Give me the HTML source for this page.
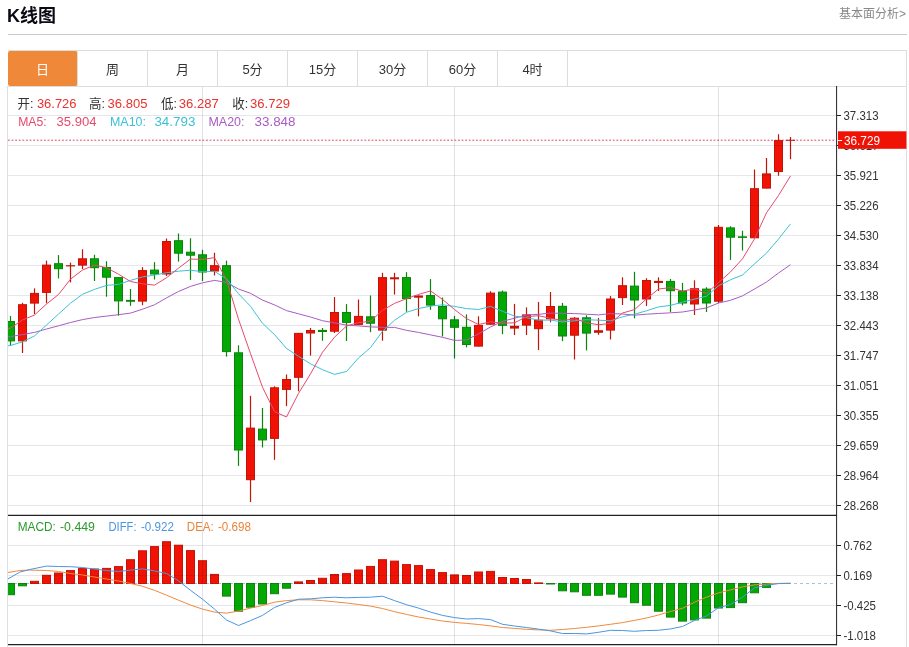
<!DOCTYPE html>
<html lang="zh-CN"><head><meta charset="utf-8"><title>K线图</title>
<style>
html,body{margin:0;padding:0;background:#fff;}
body{width:909px;height:647px;position:relative;overflow:hidden;font-family:"Liberation Sans","Noto Sans CJK SC",sans-serif;}
.title{position:absolute;left:7px;top:2.5px;font-size:18px;font-weight:bold;color:#0a0a14;line-height:26px;white-space:nowrap;}
.more{position:absolute;right:3px;top:5px;font-size:12px;color:#888;line-height:18px;white-space:nowrap;}
.hr{position:absolute;left:8px;top:33.5px;width:899px;height:1.5px;background:#c8c8c8;}
.tabs{position:absolute;left:8px;top:50px;width:898px;height:35px;border:1px solid #ddd;border-left:none;display:flex;}
.tab{width:69px;height:35px;border-right:1px solid #ddd;font-size:13px;line-height:37px;text-align:center;color:#333;}
.tab.on{background:#f0883a;color:#fff;border-radius:2px;margin-top:0;height:35px;}
</style></head><body>
<div class="title">K线图</div>
<div class="more">基本面分析&gt;</div>
<div class="hr"></div>
<div class="tabs"><div class="tab on">日</div><div class="tab">周</div><div class="tab">月</div><div class="tab">5分</div><div class="tab">15分</div><div class="tab">30分</div><div class="tab">60分</div><div class="tab">4时</div></div>
<svg width="909" height="647" viewBox="0 0 909 647" style="position:absolute;left:0;top:0" font-family="'Liberation Sans','Noto Sans CJK SC',sans-serif">
<defs><clipPath id="cp"><rect x="8" y="87" width="828.5" height="560"/></clipPath></defs>
<line x1="7.5" x2="7.5" y1="86" y2="647" stroke="#dcdfe4" stroke-width="1"/>
<line x1="8" x2="834" y1="583.5" y2="583.5" stroke="#9fc4e8" stroke-width="1" stroke-dasharray="3,3"/>
<line x1="8" x2="836" y1="140.2" y2="140.2" stroke="#dc4460" stroke-width="1" stroke-dasharray="1.8,1.8"/>
<g clip-path="url(#cp)">
<line x1="10.5" x2="10.5" y1="316.1" y2="345.8" stroke="#0c840c" stroke-width="1.2"/>
<rect x="6.5" y="321.5" width="8" height="19.4" fill="#04a804" stroke="#0c840c" stroke-width="1"/>
<line x1="22.5" x2="22.5" y1="302.8" y2="353.0" stroke="#c41408" stroke-width="1.2"/>
<rect x="18.5" y="304.7" width="8" height="36.2" fill="#f01205" stroke="#c41408" stroke-width="1"/>
<line x1="34.5" x2="34.5" y1="288.4" y2="314.1" stroke="#c41408" stroke-width="1.2"/>
<rect x="30.5" y="293.4" width="8" height="9.7" fill="#f01205" stroke="#c41408" stroke-width="1"/>
<line x1="46.5" x2="46.5" y1="260.6" y2="303.2" stroke="#c41408" stroke-width="1.2"/>
<rect x="42.5" y="265.1" width="8" height="27.3" fill="#f01205" stroke="#c41408" stroke-width="1"/>
<line x1="58.5" x2="58.5" y1="255.1" y2="278.5" stroke="#0c840c" stroke-width="1.2"/>
<rect x="54.5" y="263.7" width="8" height="5.0" fill="#04a804" stroke="#0c840c" stroke-width="1"/>
<line x1="70.5" x2="70.5" y1="262.6" y2="282.4" stroke="#c41408" stroke-width="1.2"/>
<rect x="66.0" y="265.2" width="9" height="1.2" fill="#c41408"/>
<line x1="82.5" x2="82.5" y1="249.2" y2="269.0" stroke="#c41408" stroke-width="1.2"/>
<rect x="78.5" y="258.8" width="8" height="6.3" fill="#f01205" stroke="#c41408" stroke-width="1"/>
<line x1="94.5" x2="94.5" y1="254.7" y2="281.0" stroke="#0c840c" stroke-width="1.2"/>
<rect x="90.5" y="258.8" width="8" height="8.9" fill="#04a804" stroke="#0c840c" stroke-width="1"/>
<line x1="106.5" x2="106.5" y1="261.2" y2="296.7" stroke="#0c840c" stroke-width="1.2"/>
<rect x="102.5" y="267.5" width="8" height="9.7" fill="#04a804" stroke="#0c840c" stroke-width="1"/>
<line x1="118.5" x2="118.5" y1="277.1" y2="315.7" stroke="#0c840c" stroke-width="1.2"/>
<rect x="114.5" y="277.6" width="8" height="23.3" fill="#04a804" stroke="#0c840c" stroke-width="1"/>
<line x1="130.5" x2="130.5" y1="289.0" y2="305.8" stroke="#0c840c" stroke-width="1.2"/>
<rect x="126.0" y="299.9" width="9" height="1.9" fill="#0c840c"/>
<line x1="142.5" x2="142.5" y1="267.2" y2="305.2" stroke="#c41408" stroke-width="1.2"/>
<rect x="138.5" y="270.6" width="8" height="30.5" fill="#f01205" stroke="#c41408" stroke-width="1"/>
<line x1="154.5" x2="154.5" y1="262.2" y2="279.5" stroke="#0c840c" stroke-width="1.2"/>
<rect x="150.5" y="270.1" width="8" height="3.9" fill="#04a804" stroke="#0c840c" stroke-width="1"/>
<line x1="166.5" x2="166.5" y1="238.5" y2="276.0" stroke="#c41408" stroke-width="1.2"/>
<rect x="162.5" y="241.5" width="8" height="32.5" fill="#f01205" stroke="#c41408" stroke-width="1"/>
<line x1="178.5" x2="178.5" y1="233.5" y2="261.6" stroke="#0c840c" stroke-width="1.2"/>
<rect x="174.5" y="240.7" width="8" height="12.5" fill="#04a804" stroke="#0c840c" stroke-width="1"/>
<line x1="190.5" x2="190.5" y1="238.3" y2="279.9" stroke="#0c840c" stroke-width="1.2"/>
<rect x="186.5" y="252.2" width="8" height="3.0" fill="#04a804" stroke="#0c840c" stroke-width="1"/>
<line x1="202.5" x2="202.5" y1="249.8" y2="281.0" stroke="#0c840c" stroke-width="1.2"/>
<rect x="198.5" y="254.8" width="8" height="17.2" fill="#04a804" stroke="#0c840c" stroke-width="1"/>
<line x1="214.5" x2="214.5" y1="252.7" y2="275.5" stroke="#c41408" stroke-width="1.2"/>
<rect x="210.5" y="265.7" width="8" height="5.3" fill="#f01205" stroke="#c41408" stroke-width="1"/>
<line x1="226.5" x2="226.5" y1="260.6" y2="356.6" stroke="#0c840c" stroke-width="1.2"/>
<rect x="222.5" y="265.7" width="8" height="85.9" fill="#04a804" stroke="#0c840c" stroke-width="1"/>
<line x1="238.5" x2="238.5" y1="345.3" y2="465.9" stroke="#0c840c" stroke-width="1.2"/>
<rect x="234.5" y="352.8" width="8" height="97.2" fill="#04a804" stroke="#0c840c" stroke-width="1"/>
<line x1="250.5" x2="250.5" y1="395.8" y2="502.0" stroke="#c41408" stroke-width="1.2"/>
<rect x="246.5" y="428.1" width="8" height="51.6" fill="#f01205" stroke="#c41408" stroke-width="1"/>
<line x1="262.5" x2="262.5" y1="408.0" y2="447.5" stroke="#0c840c" stroke-width="1.2"/>
<rect x="258.5" y="429.1" width="8" height="10.8" fill="#04a804" stroke="#0c840c" stroke-width="1"/>
<line x1="274.5" x2="274.5" y1="386.3" y2="459.8" stroke="#c41408" stroke-width="1.2"/>
<rect x="270.5" y="387.8" width="8" height="50.6" fill="#f01205" stroke="#c41408" stroke-width="1"/>
<line x1="286.5" x2="286.5" y1="374.5" y2="406.1" stroke="#c41408" stroke-width="1.2"/>
<rect x="282.5" y="379.5" width="8" height="9.9" fill="#f01205" stroke="#c41408" stroke-width="1"/>
<line x1="298.5" x2="298.5" y1="332.9" y2="391.3" stroke="#c41408" stroke-width="1.2"/>
<rect x="294.5" y="333.4" width="8" height="43.9" fill="#f01205" stroke="#c41408" stroke-width="1"/>
<line x1="310.5" x2="310.5" y1="328.0" y2="355.6" stroke="#c41408" stroke-width="1.2"/>
<rect x="306.5" y="330.5" width="8" height="2.5" fill="#f01205" stroke="#c41408" stroke-width="1"/>
<line x1="322.5" x2="322.5" y1="328.0" y2="340.8" stroke="#0c840c" stroke-width="1.2"/>
<rect x="318.0" y="329.9" width="9" height="2.1" fill="#0c840c"/>
<line x1="334.5" x2="334.5" y1="297.1" y2="333.0" stroke="#c41408" stroke-width="1.2"/>
<rect x="330.5" y="312.5" width="8" height="18.7" fill="#f01205" stroke="#c41408" stroke-width="1"/>
<line x1="346.5" x2="346.5" y1="304.1" y2="341.0" stroke="#0c840c" stroke-width="1.2"/>
<rect x="342.5" y="312.5" width="8" height="9.9" fill="#04a804" stroke="#0c840c" stroke-width="1"/>
<line x1="358.5" x2="358.5" y1="299.5" y2="325.2" stroke="#c41408" stroke-width="1.2"/>
<rect x="354.5" y="316.4" width="8" height="8.0" fill="#f01205" stroke="#c41408" stroke-width="1"/>
<line x1="370.5" x2="370.5" y1="295.5" y2="332.2" stroke="#0c840c" stroke-width="1.2"/>
<rect x="366.5" y="316.8" width="8" height="6.4" fill="#04a804" stroke="#0c840c" stroke-width="1"/>
<line x1="382.5" x2="382.5" y1="272.8" y2="340.7" stroke="#c41408" stroke-width="1.2"/>
<rect x="378.5" y="277.6" width="8" height="52.5" fill="#f01205" stroke="#c41408" stroke-width="1"/>
<line x1="394.5" x2="394.5" y1="272.8" y2="294.6" stroke="#c41408" stroke-width="1.2"/>
<rect x="390.0" y="277.3" width="9" height="2.0" fill="#c41408"/>
<line x1="406.5" x2="406.5" y1="272.2" y2="311.8" stroke="#0c840c" stroke-width="1.2"/>
<rect x="402.5" y="277.6" width="8" height="21.0" fill="#04a804" stroke="#0c840c" stroke-width="1"/>
<line x1="418.5" x2="418.5" y1="295.5" y2="316.3" stroke="#c41408" stroke-width="1.2"/>
<rect x="414.0" y="295.5" width="9" height="2.2" fill="#c41408"/>
<line x1="430.5" x2="430.5" y1="279.1" y2="309.8" stroke="#0c840c" stroke-width="1.2"/>
<rect x="426.5" y="295.6" width="8" height="9.5" fill="#04a804" stroke="#0c840c" stroke-width="1"/>
<line x1="442.5" x2="442.5" y1="297.5" y2="336.5" stroke="#0c840c" stroke-width="1.2"/>
<rect x="438.5" y="306.5" width="8" height="12.3" fill="#04a804" stroke="#0c840c" stroke-width="1"/>
<line x1="454.5" x2="454.5" y1="315.9" y2="358.5" stroke="#0c840c" stroke-width="1.2"/>
<rect x="450.5" y="319.8" width="8" height="7.5" fill="#04a804" stroke="#0c840c" stroke-width="1"/>
<line x1="466.5" x2="466.5" y1="314.4" y2="347.4" stroke="#0c840c" stroke-width="1.2"/>
<rect x="462.5" y="327.3" width="8" height="17.2" fill="#04a804" stroke="#0c840c" stroke-width="1"/>
<line x1="478.5" x2="478.5" y1="316.3" y2="346.6" stroke="#c41408" stroke-width="1.2"/>
<rect x="474.5" y="325.4" width="8" height="20.7" fill="#f01205" stroke="#c41408" stroke-width="1"/>
<line x1="490.5" x2="490.5" y1="291.2" y2="324.7" stroke="#c41408" stroke-width="1.2"/>
<rect x="486.5" y="293.1" width="8" height="31.1" fill="#f01205" stroke="#c41408" stroke-width="1"/>
<line x1="502.5" x2="502.5" y1="290.6" y2="334.2" stroke="#0c840c" stroke-width="1.2"/>
<rect x="498.5" y="292.1" width="8" height="33.2" fill="#04a804" stroke="#0c840c" stroke-width="1"/>
<line x1="514.5" x2="514.5" y1="303.9" y2="335.1" stroke="#c41408" stroke-width="1.2"/>
<rect x="510.0" y="325.8" width="9" height="2.8" fill="#c41408"/>
<line x1="526.5" x2="526.5" y1="307.4" y2="335.1" stroke="#c41408" stroke-width="1.2"/>
<rect x="522.5" y="314.9" width="8" height="10.2" fill="#f01205" stroke="#c41408" stroke-width="1"/>
<line x1="538.5" x2="538.5" y1="301.9" y2="350.0" stroke="#c41408" stroke-width="1.2"/>
<rect x="534.5" y="320.2" width="8" height="8.5" fill="#f01205" stroke="#c41408" stroke-width="1"/>
<line x1="550.5" x2="550.5" y1="292.0" y2="322.3" stroke="#c41408" stroke-width="1.2"/>
<rect x="546.5" y="306.5" width="8" height="12.3" fill="#f01205" stroke="#c41408" stroke-width="1"/>
<line x1="562.5" x2="562.5" y1="302.9" y2="341.1" stroke="#0c840c" stroke-width="1.2"/>
<rect x="558.5" y="306.3" width="8" height="29.7" fill="#04a804" stroke="#0c840c" stroke-width="1"/>
<line x1="574.5" x2="574.5" y1="317.0" y2="359.5" stroke="#c41408" stroke-width="1.2"/>
<rect x="570.5" y="318.2" width="8" height="17.0" fill="#f01205" stroke="#c41408" stroke-width="1"/>
<line x1="586.5" x2="586.5" y1="315.3" y2="350.4" stroke="#0c840c" stroke-width="1.2"/>
<rect x="582.5" y="317.8" width="8" height="15.3" fill="#04a804" stroke="#0c840c" stroke-width="1"/>
<line x1="598.5" x2="598.5" y1="317.9" y2="334.8" stroke="#c41408" stroke-width="1.2"/>
<rect x="594.0" y="330.2" width="9" height="2.6" fill="#c41408"/>
<line x1="610.5" x2="610.5" y1="295.9" y2="339.5" stroke="#c41408" stroke-width="1.2"/>
<rect x="606.5" y="299.0" width="8" height="31.1" fill="#f01205" stroke="#c41408" stroke-width="1"/>
<line x1="622.5" x2="622.5" y1="277.3" y2="305.0" stroke="#c41408" stroke-width="1.2"/>
<rect x="618.5" y="285.7" width="8" height="11.9" fill="#f01205" stroke="#c41408" stroke-width="1"/>
<line x1="634.5" x2="634.5" y1="271.8" y2="318.3" stroke="#0c840c" stroke-width="1.2"/>
<rect x="630.5" y="286.1" width="8" height="13.9" fill="#04a804" stroke="#0c840c" stroke-width="1"/>
<line x1="646.5" x2="646.5" y1="278.3" y2="306.0" stroke="#c41408" stroke-width="1.2"/>
<rect x="642.5" y="280.5" width="8" height="18.5" fill="#f01205" stroke="#c41408" stroke-width="1"/>
<line x1="658.5" x2="658.5" y1="277.3" y2="291.0" stroke="#c41408" stroke-width="1.2"/>
<rect x="654.0" y="280.9" width="9" height="2.1" fill="#c41408"/>
<line x1="670.5" x2="670.5" y1="278.9" y2="312.0" stroke="#0c840c" stroke-width="1.2"/>
<rect x="666.5" y="281.4" width="8" height="9.3" fill="#04a804" stroke="#0c840c" stroke-width="1"/>
<line x1="682.5" x2="682.5" y1="282.9" y2="305.4" stroke="#0c840c" stroke-width="1.2"/>
<rect x="678.5" y="291.1" width="8" height="11.9" fill="#04a804" stroke="#0c840c" stroke-width="1"/>
<line x1="694.5" x2="694.5" y1="280.3" y2="315.0" stroke="#c41408" stroke-width="1.2"/>
<rect x="690.5" y="288.7" width="8" height="15.3" fill="#f01205" stroke="#c41408" stroke-width="1"/>
<line x1="706.5" x2="706.5" y1="287.2" y2="312.0" stroke="#0c840c" stroke-width="1.2"/>
<rect x="702.5" y="289.1" width="8" height="13.9" fill="#04a804" stroke="#0c840c" stroke-width="1"/>
<line x1="718.5" x2="718.5" y1="224.9" y2="303.1" stroke="#c41408" stroke-width="1.2"/>
<rect x="714.5" y="227.3" width="8" height="73.9" fill="#f01205" stroke="#c41408" stroke-width="1"/>
<line x1="730.5" x2="730.5" y1="226.2" y2="259.9" stroke="#0c840c" stroke-width="1.2"/>
<rect x="726.5" y="227.9" width="8" height="9.3" fill="#04a804" stroke="#0c840c" stroke-width="1"/>
<line x1="742.5" x2="742.5" y1="230.8" y2="250.6" stroke="#0c840c" stroke-width="1.2"/>
<rect x="738.0" y="236.3" width="9" height="1.6" fill="#0c840c"/>
<line x1="754.5" x2="754.5" y1="169.4" y2="238.3" stroke="#c41408" stroke-width="1.2"/>
<rect x="750.5" y="188.7" width="8" height="49.1" fill="#f01205" stroke="#c41408" stroke-width="1"/>
<line x1="766.5" x2="766.5" y1="158.1" y2="188.6" stroke="#c41408" stroke-width="1.2"/>
<rect x="762.5" y="173.9" width="8" height="14.2" fill="#f01205" stroke="#c41408" stroke-width="1"/>
<line x1="778.5" x2="778.5" y1="134.2" y2="175.7" stroke="#c41408" stroke-width="1.2"/>
<rect x="774.5" y="140.6" width="8" height="30.9" fill="#f01205" stroke="#c41408" stroke-width="1"/>
<line x1="790.5" x2="790.5" y1="136.9" y2="159.2" stroke="#c41408" stroke-width="1.2"/>
<rect x="786.0" y="139.8" width="9" height="1.0" fill="#c41408"/>
<rect x="6.5" y="583.5" width="8" height="11.2" fill="#04a804" stroke="#0c840c" stroke-width="1"/>
<rect x="18.5" y="583.5" width="8" height="2.3" fill="#04a804" stroke="#0c840c" stroke-width="1"/>
<rect x="30.5" y="581.3" width="8" height="2.2" fill="#f01205" stroke="#c41408" stroke-width="1"/>
<rect x="42.5" y="575.3" width="8" height="8.2" fill="#f01205" stroke="#c41408" stroke-width="1"/>
<rect x="54.5" y="573.0" width="8" height="10.5" fill="#f01205" stroke="#c41408" stroke-width="1"/>
<rect x="66.5" y="570.6" width="8" height="12.9" fill="#f01205" stroke="#c41408" stroke-width="1"/>
<rect x="78.5" y="568.6" width="8" height="14.9" fill="#f01205" stroke="#c41408" stroke-width="1"/>
<rect x="90.5" y="569.0" width="8" height="14.5" fill="#f01205" stroke="#c41408" stroke-width="1"/>
<rect x="102.5" y="568.4" width="8" height="15.1" fill="#f01205" stroke="#c41408" stroke-width="1"/>
<rect x="114.5" y="566.6" width="8" height="16.9" fill="#f01205" stroke="#c41408" stroke-width="1"/>
<rect x="126.5" y="559.7" width="8" height="23.8" fill="#f01205" stroke="#c41408" stroke-width="1"/>
<rect x="138.5" y="550.8" width="8" height="32.7" fill="#f01205" stroke="#c41408" stroke-width="1"/>
<rect x="150.5" y="546.6" width="8" height="36.9" fill="#f01205" stroke="#c41408" stroke-width="1"/>
<rect x="162.5" y="541.7" width="8" height="41.8" fill="#f01205" stroke="#c41408" stroke-width="1"/>
<rect x="174.5" y="545.2" width="8" height="38.3" fill="#f01205" stroke="#c41408" stroke-width="1"/>
<rect x="186.5" y="550.6" width="8" height="32.9" fill="#f01205" stroke="#c41408" stroke-width="1"/>
<rect x="198.5" y="560.7" width="8" height="22.8" fill="#f01205" stroke="#c41408" stroke-width="1"/>
<rect x="210.5" y="574.4" width="8" height="9.1" fill="#f01205" stroke="#c41408" stroke-width="1"/>
<rect x="222.5" y="583.5" width="8" height="12.6" fill="#04a804" stroke="#0c840c" stroke-width="1"/>
<rect x="234.5" y="583.5" width="8" height="27.7" fill="#04a804" stroke="#0c840c" stroke-width="1"/>
<rect x="246.5" y="583.5" width="8" height="23.7" fill="#04a804" stroke="#0c840c" stroke-width="1"/>
<rect x="258.5" y="583.5" width="8" height="20.5" fill="#04a804" stroke="#0c840c" stroke-width="1"/>
<rect x="270.5" y="583.5" width="8" height="10.2" fill="#04a804" stroke="#0c840c" stroke-width="1"/>
<rect x="282.5" y="583.5" width="8" height="4.7" fill="#04a804" stroke="#0c840c" stroke-width="1"/>
<rect x="294.5" y="581.9" width="8" height="1.6" fill="#f01205" stroke="#c41408" stroke-width="1"/>
<rect x="306.5" y="580.5" width="8" height="3.0" fill="#f01205" stroke="#c41408" stroke-width="1"/>
<rect x="318.5" y="578.3" width="8" height="5.2" fill="#f01205" stroke="#c41408" stroke-width="1"/>
<rect x="330.5" y="574.5" width="8" height="9.0" fill="#f01205" stroke="#c41408" stroke-width="1"/>
<rect x="342.5" y="573.6" width="8" height="9.9" fill="#f01205" stroke="#c41408" stroke-width="1"/>
<rect x="354.5" y="570.0" width="8" height="13.5" fill="#f01205" stroke="#c41408" stroke-width="1"/>
<rect x="366.5" y="566.4" width="8" height="17.1" fill="#f01205" stroke="#c41408" stroke-width="1"/>
<rect x="378.5" y="559.7" width="8" height="23.8" fill="#f01205" stroke="#c41408" stroke-width="1"/>
<rect x="390.5" y="561.1" width="8" height="22.4" fill="#f01205" stroke="#c41408" stroke-width="1"/>
<rect x="402.5" y="564.6" width="8" height="18.9" fill="#f01205" stroke="#c41408" stroke-width="1"/>
<rect x="414.5" y="565.6" width="8" height="17.9" fill="#f01205" stroke="#c41408" stroke-width="1"/>
<rect x="426.5" y="569.6" width="8" height="13.9" fill="#f01205" stroke="#c41408" stroke-width="1"/>
<rect x="438.5" y="572.6" width="8" height="10.9" fill="#f01205" stroke="#c41408" stroke-width="1"/>
<rect x="450.5" y="574.9" width="8" height="8.6" fill="#f01205" stroke="#c41408" stroke-width="1"/>
<rect x="462.5" y="575.5" width="8" height="8.0" fill="#f01205" stroke="#c41408" stroke-width="1"/>
<rect x="474.5" y="572.0" width="8" height="11.5" fill="#f01205" stroke="#c41408" stroke-width="1"/>
<rect x="486.5" y="571.4" width="8" height="12.1" fill="#f01205" stroke="#c41408" stroke-width="1"/>
<rect x="498.5" y="577.5" width="8" height="6.0" fill="#f01205" stroke="#c41408" stroke-width="1"/>
<rect x="510.5" y="578.5" width="8" height="5.0" fill="#f01205" stroke="#c41408" stroke-width="1"/>
<rect x="522.5" y="579.5" width="8" height="4.0" fill="#f01205" stroke="#c41408" stroke-width="1"/>
<rect x="534.5" y="582.9" width="8" height="0.6" fill="#f01205" stroke="#c41408" stroke-width="1"/>
<rect x="546.5" y="583.5" width="8" height="0.5" fill="#04a804" stroke="#0c840c" stroke-width="1"/>
<rect x="558.5" y="583.5" width="8" height="7.3" fill="#04a804" stroke="#0c840c" stroke-width="1"/>
<rect x="570.5" y="583.5" width="8" height="8.3" fill="#04a804" stroke="#0c840c" stroke-width="1"/>
<rect x="582.5" y="583.5" width="8" height="11.8" fill="#04a804" stroke="#0c840c" stroke-width="1"/>
<rect x="594.5" y="583.5" width="8" height="11.8" fill="#04a804" stroke="#0c840c" stroke-width="1"/>
<rect x="606.5" y="583.5" width="8" height="10.6" fill="#04a804" stroke="#0c840c" stroke-width="1"/>
<rect x="618.5" y="583.5" width="8" height="13.6" fill="#04a804" stroke="#0c840c" stroke-width="1"/>
<rect x="630.5" y="583.5" width="8" height="19.2" fill="#04a804" stroke="#0c840c" stroke-width="1"/>
<rect x="642.5" y="583.5" width="8" height="21.7" fill="#04a804" stroke="#0c840c" stroke-width="1"/>
<rect x="654.5" y="583.5" width="8" height="27.7" fill="#04a804" stroke="#0c840c" stroke-width="1"/>
<rect x="666.5" y="583.5" width="8" height="33.6" fill="#04a804" stroke="#0c840c" stroke-width="1"/>
<rect x="678.5" y="583.5" width="8" height="37.6" fill="#04a804" stroke="#0c840c" stroke-width="1"/>
<rect x="690.5" y="583.5" width="8" height="36.4" fill="#04a804" stroke="#0c840c" stroke-width="1"/>
<rect x="702.5" y="583.5" width="8" height="34.6" fill="#04a804" stroke="#0c840c" stroke-width="1"/>
<rect x="714.5" y="583.5" width="8" height="24.5" fill="#04a804" stroke="#0c840c" stroke-width="1"/>
<rect x="726.5" y="583.5" width="8" height="24.1" fill="#04a804" stroke="#0c840c" stroke-width="1"/>
<rect x="738.5" y="583.5" width="8" height="19.2" fill="#04a804" stroke="#0c840c" stroke-width="1"/>
<rect x="750.5" y="583.5" width="8" height="9.3" fill="#04a804" stroke="#0c840c" stroke-width="1"/>
<rect x="762.5" y="583.5" width="8" height="3.9" fill="#04a804" stroke="#0c840c" stroke-width="1"/>
<line x1="8" x2="836" y1="115.5" y2="115.5" stroke="rgba(10,20,50,0.10)" stroke-width="1"/>
<line x1="8" x2="836" y1="145.5" y2="145.5" stroke="rgba(10,20,50,0.10)" stroke-width="1"/>
<line x1="8" x2="836" y1="175.5" y2="175.5" stroke="rgba(10,20,50,0.10)" stroke-width="1"/>
<line x1="8" x2="836" y1="205.5" y2="205.5" stroke="rgba(10,20,50,0.10)" stroke-width="1"/>
<line x1="8" x2="836" y1="235.5" y2="235.5" stroke="rgba(10,20,50,0.10)" stroke-width="1"/>
<line x1="8" x2="836" y1="265.5" y2="265.5" stroke="rgba(10,20,50,0.10)" stroke-width="1"/>
<line x1="8" x2="836" y1="295.5" y2="295.5" stroke="rgba(10,20,50,0.10)" stroke-width="1"/>
<line x1="8" x2="836" y1="325.5" y2="325.5" stroke="rgba(10,20,50,0.10)" stroke-width="1"/>
<line x1="8" x2="836" y1="355.5" y2="355.5" stroke="rgba(10,20,50,0.10)" stroke-width="1"/>
<line x1="8" x2="836" y1="385.5" y2="385.5" stroke="rgba(10,20,50,0.10)" stroke-width="1"/>
<line x1="8" x2="836" y1="415.5" y2="415.5" stroke="rgba(10,20,50,0.10)" stroke-width="1"/>
<line x1="8" x2="836" y1="445.5" y2="445.5" stroke="rgba(10,20,50,0.10)" stroke-width="1"/>
<line x1="8" x2="836" y1="475.5" y2="475.5" stroke="rgba(10,20,50,0.10)" stroke-width="1"/>
<line x1="8" x2="836" y1="505.5" y2="505.5" stroke="rgba(10,20,50,0.10)" stroke-width="1"/>
<line x1="8" x2="836" y1="545.5" y2="545.5" stroke="rgba(10,20,50,0.10)" stroke-width="1"/>
<line x1="8" x2="836" y1="575.5" y2="575.5" stroke="rgba(10,20,50,0.10)" stroke-width="1"/>
<line x1="8" x2="836" y1="605.5" y2="605.5" stroke="rgba(10,20,50,0.10)" stroke-width="1"/>
<line x1="8" x2="836" y1="635.5" y2="635.5" stroke="rgba(10,20,50,0.10)" stroke-width="1"/>
<line x1="202.5" x2="202.5" y1="87" y2="645" stroke="rgba(10,20,60,0.12)" stroke-width="1"/>
<line x1="454.5" x2="454.5" y1="87" y2="645" stroke="rgba(10,20,60,0.12)" stroke-width="1"/>
<line x1="718.5" x2="718.5" y1="87" y2="645" stroke="rgba(10,20,60,0.12)" stroke-width="1"/>
<polyline points="-1.5,337.6 10.5,336.6 22.5,334.6 34.5,332.4 46.5,329.0 58.5,325.8 70.5,322.5 82.5,319.6 94.5,317.5 106.5,316.1 118.5,314.7 130.5,313.1 142.5,309.2 154.5,304.8 166.5,297.9 178.5,291.5 190.5,286.4 202.5,282.8 214.5,280.4 226.5,282.4 238.5,289.0 250.5,293.3 262.5,300.1 274.5,304.9 286.5,310.6 298.5,313.8 310.5,317.0 322.5,320.7 334.5,322.9 346.5,325.1 358.5,325.9 370.5,326.9 382.5,327.3 394.5,327.4 406.5,330.3 418.5,332.4 430.5,334.9 442.5,337.3 454.5,340.4 466.5,340.0 478.5,333.8 490.5,327.0 502.5,321.3 514.5,318.2 526.5,315.0 538.5,314.3 550.5,313.1 562.5,313.3 574.5,313.6 586.5,314.2 598.5,314.9 610.5,313.6 622.5,314.0 634.5,315.2 646.5,314.2 658.5,313.5 670.5,312.8 682.5,312.0 694.5,310.0 706.5,307.9 718.5,303.0 730.5,300.3 742.5,295.9 754.5,289.0 766.5,282.0 778.5,273.0 790.5,264.7" fill="none" stroke="#a95bc4" stroke-width="1.0" stroke-linejoin="round"/>
<polyline points="-1.5,347.5 10.5,345.5 22.5,341.8 34.5,335.9 46.5,325.0 58.5,314.1 70.5,303.2 82.5,294.3 94.5,289.4 106.5,285.4 118.5,284.3 130.5,280.4 142.5,276.9 154.5,275.1 166.5,272.7 178.5,271.2 190.5,270.2 202.5,271.7 214.5,271.4 226.5,278.8 238.5,293.7 250.5,306.3 262.5,323.3 274.5,334.6 286.5,348.4 298.5,356.3 310.5,363.8 322.5,369.7 334.5,374.4 346.5,371.5 358.5,358.0 370.5,347.6 382.5,331.3 394.5,320.3 406.5,312.3 418.5,308.6 430.5,306.1 442.5,304.8 454.5,306.4 466.5,308.6 478.5,309.5 490.5,306.4 502.5,311.3 514.5,316.1 526.5,317.7 538.5,320.1 550.5,320.1 562.5,321.9 574.5,320.8 586.5,319.7 598.5,320.2 610.5,320.8 622.5,316.8 634.5,314.2 646.5,310.8 658.5,306.9 670.5,305.4 682.5,302.1 694.5,299.2 706.5,296.2 718.5,285.8 730.5,279.8 742.5,275.0 754.5,263.8 766.5,253.1 778.5,239.1 790.5,223.9" fill="none" stroke="#3cc2d6" stroke-width="1.0" stroke-linejoin="round"/>
<polyline points="-1.5,331.0 10.5,328.0 22.5,320.0 34.5,315.0 46.5,304.0 58.5,294.5 70.5,279.2 82.5,270.0 94.5,265.1 106.5,267.7 118.5,274.2 130.5,281.5 142.5,283.8 154.5,285.1 166.5,277.8 178.5,268.2 190.5,259.0 202.5,259.5 214.5,257.6 226.5,279.8 238.5,319.2 250.5,353.6 262.5,387.2 274.5,411.6 286.5,417.0 298.5,393.4 310.5,373.9 322.5,352.2 334.5,337.2 346.5,326.0 358.5,322.6 370.5,321.3 382.5,310.3 394.5,303.4 406.5,298.6 418.5,294.5 430.5,290.9 442.5,299.4 454.5,309.5 466.5,318.6 478.5,324.5 490.5,321.9 502.5,323.2 514.5,322.8 526.5,316.7 538.5,315.7 550.5,318.3 562.5,320.5 574.5,318.9 586.5,322.7 598.5,324.8 610.5,323.3 622.5,313.0 634.5,309.6 646.5,298.9 658.5,289.0 670.5,287.6 682.5,291.2 694.5,288.8 706.5,293.5 718.5,282.6 730.5,271.9 742.5,258.8 754.5,238.8 766.5,212.8 778.5,195.5 790.5,175.9" fill="none" stroke="#e8496f" stroke-width="1.0" stroke-linejoin="round"/>
<polyline points="7.9,572.5 19.8,570.5 29.7,570.1 46.5,570.5 58.5,571.5 70.5,573.5 82.5,575.0 94.5,577.0 106.5,579.0 118.5,581.0 130.5,583.4 142.5,586.3 154.5,590.3 166.5,595.2 178.5,600.2 190.5,605.1 202.5,609.1 214.5,612.1 226.5,613.1 238.5,611.1 250.5,608.1 262.5,605.5 274.5,602.2 286.5,600.6 298.5,599.8 310.5,599.8 322.5,600.6 334.5,601.8 346.5,603.0 358.5,604.5 370.5,606.1 382.5,608.5 394.5,611.7 406.5,614.4 418.5,617.0 430.5,619.0 442.5,621.0 454.5,622.4 466.5,623.4 478.5,624.5 490.5,625.9 502.5,627.5 514.5,628.4 526.5,629.3 538.5,629.9 550.5,630.3 562.5,629.5 574.5,628.5 586.5,627.3 598.5,625.9 610.5,624.3 622.5,622.6 634.5,620.4 646.5,618.0 658.5,615.0 670.5,611.5 682.5,608.3 694.5,602.2 706.5,597.2 718.5,592.9 730.5,589.9 742.5,586.9 754.5,584.9 766.5,584.0 778.5,583.4 790.5,583.2" fill="none" stroke="#f08a3c" stroke-width="1.0" stroke-linejoin="round"/>
<polyline points="7.9,579.0 19.8,572.1 29.7,569.5 46.5,566.1 58.5,566.5 70.5,566.7 82.5,567.5 94.5,569.1 106.5,570.5 118.5,571.5 130.5,570.1 142.5,568.9 154.5,570.9 166.5,573.5 178.5,580.8 190.5,590.3 202.5,599.2 214.5,609.1 226.5,620.0 238.5,625.5 250.5,620.6 262.5,615.4 274.5,607.5 286.5,602.8 298.5,599.2 310.5,598.8 322.5,597.8 334.5,597.2 346.5,597.8 358.5,597.4 370.5,597.2 382.5,596.2 394.5,600.6 406.5,604.7 418.5,608.1 430.5,612.1 442.5,615.4 454.5,617.6 466.5,619.0 478.5,618.6 490.5,619.6 502.5,624.3 514.5,626.0 526.5,627.5 538.5,629.1 550.5,630.9 562.5,633.5 574.5,633.5 586.5,633.9 598.5,632.3 610.5,630.3 622.5,630.5 634.5,631.3 646.5,630.5 658.5,630.3 670.5,628.9 682.5,626.5 694.5,620.4 706.5,616.0 718.5,607.7 730.5,604.5 742.5,597.2 754.5,587.9 766.5,585.3 778.5,583.6 790.5,583.4" fill="none" stroke="#4a96e0" stroke-width="1.0" stroke-linejoin="round"/>
</g>
<line x1="836.6" x2="836.6" y1="86" y2="645.2" stroke="#222" stroke-width="1"/>
<line x1="8" x2="837" y1="515.4" y2="515.4" stroke="#222" stroke-width="1.1"/>
<line x1="8" x2="837" y1="644.6" y2="644.6" stroke="#222" stroke-width="1.1"/>
<line x1="906.5" x2="906.5" y1="50" y2="647" stroke="#ddd" stroke-width="1"/>
<line x1="837" x2="841" y1="115.5" y2="115.5" stroke="#222" stroke-width="1"/>
<text x="843.5" y="119.6" font-size="12" fill="#333" textLength="35" lengthAdjust="spacingAndGlyphs">37.313</text>
<line x1="837" x2="841" y1="145.5" y2="145.5" stroke="#222" stroke-width="1"/>
<text x="843.5" y="149.6" font-size="12" fill="#333" textLength="35" lengthAdjust="spacingAndGlyphs">36.617</text>
<line x1="837" x2="841" y1="175.5" y2="175.5" stroke="#222" stroke-width="1"/>
<text x="843.5" y="179.6" font-size="12" fill="#333" textLength="35" lengthAdjust="spacingAndGlyphs">35.921</text>
<line x1="837" x2="841" y1="205.5" y2="205.5" stroke="#222" stroke-width="1"/>
<text x="843.5" y="209.6" font-size="12" fill="#333" textLength="35" lengthAdjust="spacingAndGlyphs">35.226</text>
<line x1="837" x2="841" y1="235.5" y2="235.5" stroke="#222" stroke-width="1"/>
<text x="843.5" y="239.6" font-size="12" fill="#333" textLength="35" lengthAdjust="spacingAndGlyphs">34.530</text>
<line x1="837" x2="841" y1="265.5" y2="265.5" stroke="#222" stroke-width="1"/>
<text x="843.5" y="269.6" font-size="12" fill="#333" textLength="35" lengthAdjust="spacingAndGlyphs">33.834</text>
<line x1="837" x2="841" y1="295.5" y2="295.5" stroke="#222" stroke-width="1"/>
<text x="843.5" y="299.6" font-size="12" fill="#333" textLength="35" lengthAdjust="spacingAndGlyphs">33.138</text>
<line x1="837" x2="841" y1="325.5" y2="325.5" stroke="#222" stroke-width="1"/>
<text x="843.5" y="329.6" font-size="12" fill="#333" textLength="35" lengthAdjust="spacingAndGlyphs">32.443</text>
<line x1="837" x2="841" y1="355.5" y2="355.5" stroke="#222" stroke-width="1"/>
<text x="843.5" y="359.6" font-size="12" fill="#333" textLength="35" lengthAdjust="spacingAndGlyphs">31.747</text>
<line x1="837" x2="841" y1="385.5" y2="385.5" stroke="#222" stroke-width="1"/>
<text x="843.5" y="389.6" font-size="12" fill="#333" textLength="35" lengthAdjust="spacingAndGlyphs">31.051</text>
<line x1="837" x2="841" y1="415.5" y2="415.5" stroke="#222" stroke-width="1"/>
<text x="843.5" y="419.6" font-size="12" fill="#333" textLength="35" lengthAdjust="spacingAndGlyphs">30.355</text>
<line x1="837" x2="841" y1="445.5" y2="445.5" stroke="#222" stroke-width="1"/>
<text x="843.5" y="449.6" font-size="12" fill="#333" textLength="35" lengthAdjust="spacingAndGlyphs">29.659</text>
<line x1="837" x2="841" y1="475.5" y2="475.5" stroke="#222" stroke-width="1"/>
<text x="843.5" y="479.6" font-size="12" fill="#333" textLength="35" lengthAdjust="spacingAndGlyphs">28.964</text>
<line x1="837" x2="841" y1="505.5" y2="505.5" stroke="#222" stroke-width="1"/>
<text x="843.5" y="509.6" font-size="12" fill="#333" textLength="35" lengthAdjust="spacingAndGlyphs">28.268</text>
<line x1="837" x2="841" y1="545.5" y2="545.5" stroke="#222" stroke-width="1"/>
<text x="843.5" y="549.6" font-size="12" fill="#333" textLength="28.5" lengthAdjust="spacingAndGlyphs">0.762</text>
<line x1="837" x2="841" y1="575.5" y2="575.5" stroke="#222" stroke-width="1"/>
<text x="843.5" y="579.6" font-size="12" fill="#333" textLength="28.5" lengthAdjust="spacingAndGlyphs">0.169</text>
<line x1="837" x2="841" y1="605.5" y2="605.5" stroke="#222" stroke-width="1"/>
<text x="843.5" y="609.6" font-size="12" fill="#333" textLength="32.5" lengthAdjust="spacingAndGlyphs">-0.425</text>
<line x1="837" x2="841" y1="635.5" y2="635.5" stroke="#222" stroke-width="1"/>
<text x="843.5" y="639.6" font-size="12" fill="#333" textLength="32.5" lengthAdjust="spacingAndGlyphs">-1.018</text>
<rect x="838" y="131.3" width="68.4" height="17.5" fill="#f01205"/>
<line x1="838" x2="842" y1="140.5" y2="140.5" stroke="#fff" stroke-width="1"/>
<text x="844" y="144.8" font-size="12" fill="#fff" textLength="36" lengthAdjust="spacingAndGlyphs">36.729</text>
<text x="17.4" y="107.8" font-size="13" fill="#333" textLength="16" lengthAdjust="spacingAndGlyphs">开:</text>
<text x="36.9" y="107.8" font-size="13" fill="#e8322d" textLength="39.6" lengthAdjust="spacingAndGlyphs">36.726</text>
<text x="88.9" y="107.8" font-size="13" fill="#333" textLength="16" lengthAdjust="spacingAndGlyphs">高:</text>
<text x="107.5" y="107.8" font-size="13" fill="#e8322d" textLength="39.9" lengthAdjust="spacingAndGlyphs">36.805</text>
<text x="161" y="107.8" font-size="13" fill="#333" textLength="16" lengthAdjust="spacingAndGlyphs">低:</text>
<text x="178.8" y="107.8" font-size="13" fill="#e8322d" textLength="40" lengthAdjust="spacingAndGlyphs">36.287</text>
<text x="232.3" y="107.8" font-size="13" fill="#333" textLength="16" lengthAdjust="spacingAndGlyphs">收:</text>
<text x="250" y="107.8" font-size="13" fill="#e8322d" textLength="40" lengthAdjust="spacingAndGlyphs">36.729</text>
<text x="18.2" y="125.5" font-size="13" fill="#e8496f" textLength="28.5" lengthAdjust="spacingAndGlyphs">MA5:</text>
<text x="56.5" y="125.5" font-size="13" fill="#e8496f" textLength="40" lengthAdjust="spacingAndGlyphs">35.904</text>
<text x="110" y="125.5" font-size="13" fill="#3cc2d6" textLength="36" lengthAdjust="spacingAndGlyphs">MA10:</text>
<text x="154.4" y="125.5" font-size="13" fill="#3cc2d6" textLength="41" lengthAdjust="spacingAndGlyphs">34.793</text>
<text x="208.5" y="125.5" font-size="13" fill="#a95bc4" textLength="36" lengthAdjust="spacingAndGlyphs">MA20:</text>
<text x="254.5" y="125.5" font-size="13" fill="#a95bc4" textLength="41" lengthAdjust="spacingAndGlyphs">33.848</text>
<text x="17.8" y="530.5" font-size="13" fill="#2a9a2a" textLength="38" lengthAdjust="spacingAndGlyphs">MACD:</text>
<text x="60" y="530.5" font-size="13" fill="#2a9a2a" textLength="35" lengthAdjust="spacingAndGlyphs">-0.449</text>
<text x="108.5" y="530.5" font-size="13" fill="#4a96e0" textLength="28" lengthAdjust="spacingAndGlyphs">DIFF:</text>
<text x="141" y="530.5" font-size="13" fill="#4a96e0" textLength="33" lengthAdjust="spacingAndGlyphs">-0.922</text>
<text x="186.8" y="530.5" font-size="13" fill="#e8853a" textLength="27" lengthAdjust="spacingAndGlyphs">DEA:</text>
<text x="218" y="530.5" font-size="13" fill="#e8853a" textLength="33" lengthAdjust="spacingAndGlyphs">-0.698</text>
</svg>
</body></html>
